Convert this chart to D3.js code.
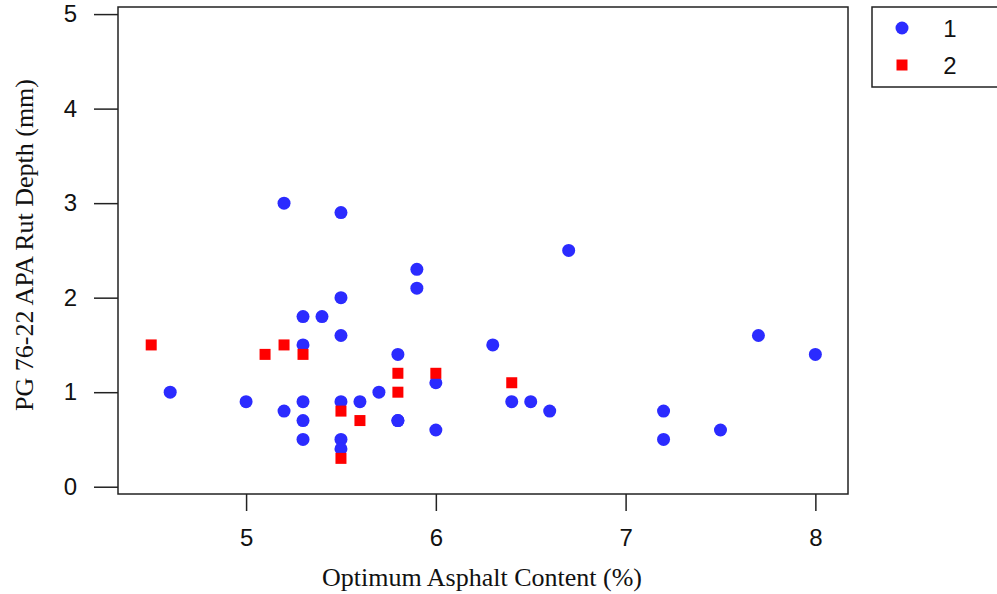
<!DOCTYPE html>
<html>
<head>
<meta charset="utf-8">
<script src="https://cdn.jsdelivr.net/npm/d3@7"></script>
<style>
  body { margin: 0; background: #fff; }
  .tick text { font-family: "Liberation Sans", Arial, sans-serif; }
</style>
</head>
<body>
<div id="chart"></div>
<script>
// group 1 (blue circles)
var x1 = [4.6, 5.0, 5.2, 5.2, 5.3, 5.3, 5.3, 5.3, 5.3, 5.4, 5.5, 5.5, 5.5, 5.5, 5.5, 5.5,
          5.6, 5.7, 5.8, 5.8, 5.8, 5.9, 5.9, 6.0, 6.0, 6.3, 6.4, 6.5, 6.6, 6.7, 7.2, 7.2, 7.5, 7.7, 8.0];
var y1 = [1.0, 0.9, 3.0, 0.8, 1.8, 1.5, 0.9, 0.7, 0.5, 1.8, 2.9, 2.0, 1.6, 0.9, 0.5, 0.4,
          0.9, 1.0, 1.4, 0.7, 0.7, 2.3, 2.1, 1.1, 0.6, 1.5, 0.9, 0.9, 0.8, 2.5, 0.8, 0.5, 0.6, 1.6, 1.4];
// group 2 (red squares)
var x2 = [4.5, 5.1, 5.2, 5.3, 5.5, 5.5, 5.6, 5.8, 5.8, 6.0, 6.4];
var y2 = [1.5, 1.4, 1.5, 1.4, 0.8, 0.3, 0.7, 1.2, 1.0, 1.2, 1.1];

var xTicks = [5, 6, 7, 8];
var yTicks = [0, 1, 2, 3, 4, 5];
var groups = ['1', '2'];

var W = 997, H = 594;
var box = {left: 118, right: 848, top: 7, bottom: 494};

var svg = d3.select('#chart').append('svg')
  .attr('width', W)
  .attr('height', H);

var x = d3.scaleLinear()
  .domain([4.325, 8.172])
  .range([box.left, box.right]);

var y = d3.scaleLinear()
  .domain([-0.077, 5.075])
  .range([box.bottom, box.top]);

var xAxis = svg.append('g')
  .attr('transform', 'translate(0,' + box.bottom + ')')
  .call(d3.axisBottom(x).tickValues(xTicks).tickFormat(d3.format('d')).tickSize(17).tickPadding(18));

var yAxis = svg.append('g')
  .attr('transform', 'translate(' + box.left + ',0)')
  .call(d3.axisLeft(y).tickValues(yTicks).tickFormat(d3.format('d')).tickSize(24).tickPadding(17));

[xAxis, yAxis].forEach(function(g) {
  g.select('.domain').remove();
  g.selectAll('.tick line').attr('stroke', '#222').attr('stroke-width', 1.5);
  g.selectAll('.tick text').attr('font-size', 24).attr('fill', '#111');
});

svg.append('rect')
  .attr('x', box.left)
  .attr('y', box.top)
  .attr('width', box.right - box.left)
  .attr('height', box.bottom - box.top)
  .attr('fill', 'none')
  .attr('stroke', '#222')
  .attr('stroke-width', 1.5);

var blue = '#2b2bff', red = '#ff0000';

svg.selectAll('.pt1')
  .data(d3.range(x1.length))
  .enter().append('circle')
    .attr('class', 'pt1')
    .attr('cx', function(i) { return x(x1[i]); })
    .attr('cy', function(i) { return y(y1[i]); })
    .attr('r', 6.5)
    .attr('fill', blue);

svg.selectAll('.pt2')
  .data(d3.range(x2.length))
  .enter().append('rect')
    .attr('class', 'pt2')
    .attr('x', function(i) { return x(x2[i]) - 5.5; })
    .attr('y', function(i) { return y(y2[i]) - 5.5; })
    .attr('width', 11)
    .attr('height', 11)
    .attr('fill', red);

// axis titles
svg.append('text')
  .attr('x', 482)
  .attr('y', 586)
  .attr('text-anchor', 'middle')
  .attr('font-family', '"Liberation Serif", "Times New Roman", serif')
  .attr('font-size', 26)
  .attr('fill', '#111')
  .text('Optimum Asphalt Content (%)');

svg.append('text')
  .attr('transform', 'translate(33,245) rotate(-90)')
  .attr('text-anchor', 'middle')
  .attr('font-family', '"Liberation Serif", "Times New Roman", serif')
  .attr('font-size', 26)
  .attr('fill', '#111')
  .text('PG 76-22 APA Rut Depth (mm)');

// legend
var legend = svg.append('g');
legend.append('rect')
  .attr('x', 872)
  .attr('y', 7)
  .attr('width', 135)
  .attr('height', 80)
  .attr('fill', 'none')
  .attr('stroke', '#222')
  .attr('stroke-width', 1.5);

var ly = d3.scalePoint().domain(groups).range([28, 65]);

legend.append('circle')
  .attr('cx', 902).attr('cy', ly('1')).attr('r', 6.5).attr('fill', blue);
legend.append('rect')
  .attr('x', 902 - 5.5).attr('y', ly('2') - 5.5)
  .attr('width', 11).attr('height', 11).attr('fill', red);

legend.selectAll('.lab')
  .data(groups)
  .enter().append('text')
    .attr('class', 'lab')
    .attr('x', 950)
    .attr('y', function(d) { return ly(d); })
    .attr('dy', '0.36em')
    .attr('text-anchor', 'middle')
    .attr('font-family', '"Liberation Sans", Arial, sans-serif')
    .attr('font-size', 24)
    .attr('fill', '#111')
    .text(function(d) { return d; });
</script>
</body>
</html>
